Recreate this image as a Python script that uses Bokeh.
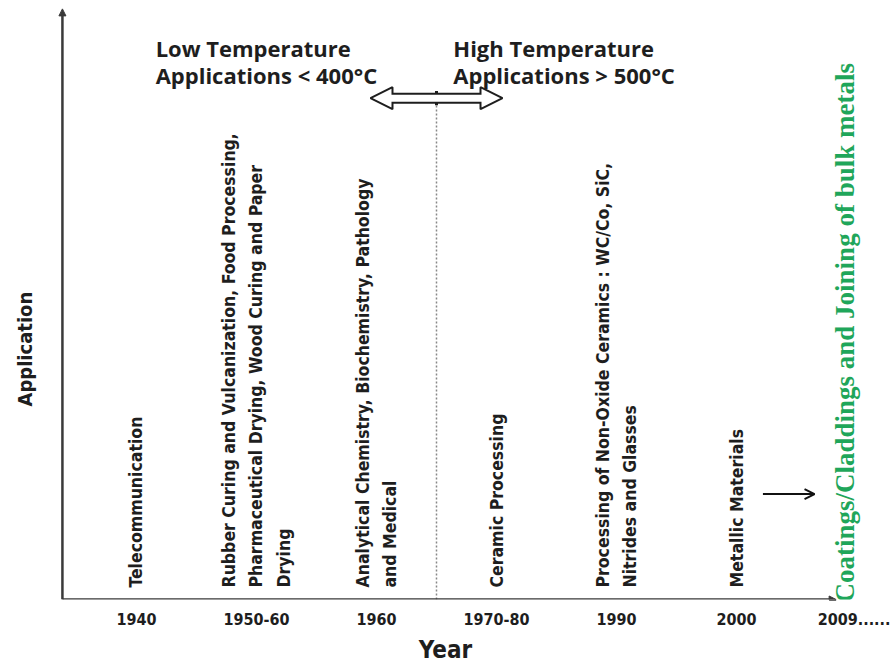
from math import pi
from bokeh.plotting import figure
from bokeh.models import Range1d, FixedTicker, Arrow, NormalHead, OpenHead
from bokeh.core.properties import value
from bokeh.embed import file_html
from bokeh.resources import INLINE

# ---- data ----
years = ["1940", "1950-60", "1960", "1970-80", "1990", "2000", "2009......"]
applications = [
    "Telecommunication",
    "Rubber Curing and Vulcanization, Food Processing,\nPharmaceutical Drying, Wood Curing and Paper\nDrying",
    "Analytical Chemistry, Biochemistry, Pathology\nand Medical",
    "Ceramic Processing",
    "Processing of Non-Oxide Ceramics : WC/Co, SiC,\nNitrides and Glasses",
    "Metallic Materials",
    "Coatings/Claddings and Joining of bulk metals",
]
low_label = "Low Temperature\nApplications < 400°C"
high_label = "High Temperature\nApplications > 500°C"
last_low_year = "1960"
y_title = "Application"
x_title = "Year"

idx = list(range(len(years)))
FONT = "DejaVu Sans Condensed"
AXC = "#3a3a3a"
TXT = "#1e1e1e"
origin_x = -0.617   # where the vertical axis stands, in category units

p = figure(width=890, height=666, x_range=Range1d(-1.133, 6.283), y_range=Range1d(0, 100),
           output_backend="svg", toolbar_location=None,
           min_border_left=0, min_border_right=0, min_border_top=0, min_border_bottom=65)
p.grid.visible = False
p.outline_line_color = None
p.yaxis.visible = False

xa = p.xaxis[0]
xa.ticker = FixedTicker(ticks=idx)
xa.major_label_overrides = {i: y for i, y in zip(idx, years)}
xa.axis_line_color = None
xa.major_tick_line_color = None
xa.minor_tick_line_color = None
xa.major_label_standoff = 7
xa.major_label_text_font = FONT
xa.major_label_text_font_style = "bold"
xa.major_label_text_font_size = "16px"
xa.major_label_text_color = TXT
xa.axis_label = x_title
xa.axis_label_standoff = 8
xa.axis_label_text_font = FONT
xa.axis_label_text_font_style = "bold"
xa.axis_label_text_font_size = "24px"
xa.axis_label_text_color = TXT

# axes drawn as arrows
p.add_layout(Arrow(x_start=origin_x, y_start=0, x_end=idx[-1] - 0.17, y_end=0, line_width=2.5, line_color=AXC,
                   end=NormalHead(size=7, fill_color=AXC, line_color=AXC)))
p.add_layout(Arrow(x_start=origin_x, y_start=0, x_end=origin_x, y_end=98.6, line_width=2.5, line_color=AXC,
                   end=NormalHead(size=7, fill_color=AXC, line_color=AXC)))
p.text(x=[origin_x - 0.31], y=[41.8], text=[y_title], angle=pi / 2, text_align="center",
       text_baseline="middle", text_font=value(FONT), text_font_style="bold",
       text_font_size="20px", text_color=TXT)

# application texts
p.text(x=idx[:-1], y=[0] * (len(idx) - 1), text=applications[:-1], angle=pi / 2,
       text_align="left", text_baseline="middle", text_font=value(FONT), text_font_style="bold",
       text_font_size="17.5px", text_line_height=1.37, y_offset=-12, text_color=TXT)
p.text(x=[idx[-1]], y=[0], text=[applications[-1]], angle=pi / 2,
       text_align="left", text_baseline="middle", text_font=value("Liberation Serif"),
       text_font_style="bold", text_font_size="27px", x_offset=-12, y_offset=3, text_color="#1fa65a")

# arrow from Metallic Materials to the 2009 application
p.add_layout(Arrow(x_start=idx[5] + 0.22, y_start=17.6, x_end=idx[6] - 0.35, y_end=17.6,
                   line_width=2, line_color="#111111", end=OpenHead(size=10, line_width=2, line_color="#111111")))

# low / high temperature divider
boundary = years.index(last_low_year) + 0.5
ay = 83.7
p.segment(x0=[boundary], y0=[0], x1=[boundary], y1=[ay], line_color="#888888", line_width=1.5, line_dash="2 2")
half = 0.55
p.add_layout(Arrow(x_start=boundary - half, y_start=ay, x_end=boundary + half, y_end=ay,
                   line_width=11, line_color=TXT,
                   start=NormalHead(size=22, fill_color="white", line_color=TXT, line_width=2),
                   end=NormalHead(size=22, fill_color="white", line_color=TXT, line_width=2)))
p.add_layout(Arrow(x_start=boundary - half + 0.17, y_start=ay, x_end=boundary + half - 0.17, y_end=ay,
                   line_width=7, line_color="white", start=None, end=None))
p.segment(x0=[boundary], y0=[ay - 1.2], x1=[boundary], y1=[ay + 1.2], line_color=TXT, line_width=3)

p.text(x=[boundary - 2.34], y=[94.5], text=[low_label], text_align="left", text_baseline="top",
       text_font=value("Open Sans"), text_font_style="bold", text_font_size="22px",
       text_line_height=0.87, text_color=TXT)
p.text(x=[boundary + 0.14], y=[94.5], text=[high_label], text_align="left", text_baseline="top",
       text_font=value("Open Sans"), text_font_style="bold", text_font_size="22px",
       text_line_height=0.87, text_color=TXT)

open("out.html", "w").write(file_html(p, INLINE))
